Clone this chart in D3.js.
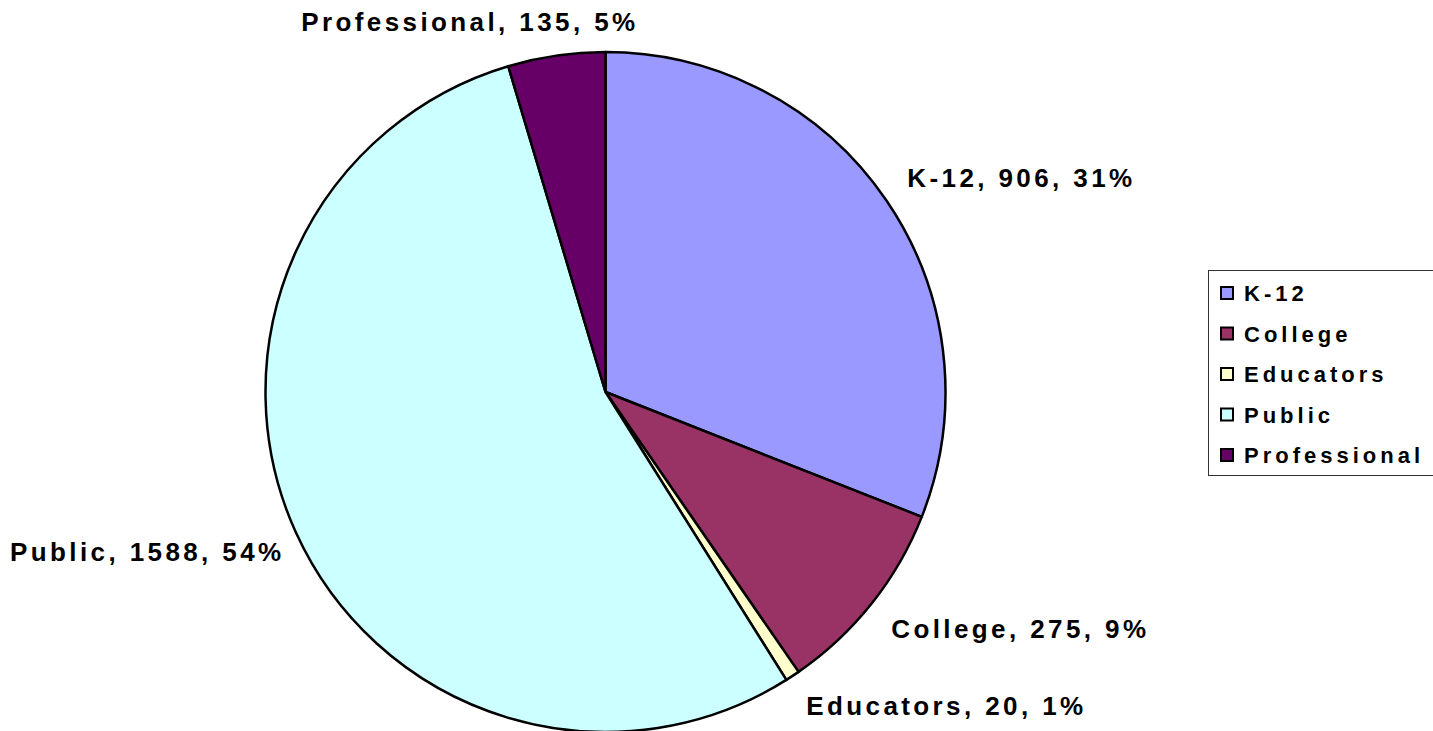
<!DOCTYPE html>
<html>
<head>
<meta charset="utf-8">
<script src="https://cdn.jsdelivr.net/npm/d3@7"></script>
<style>
  body { margin: 0; background: #fff; }
  svg { display: block; }
  text { font-family: "Liberation Sans", Arial, sans-serif; font-weight: bold; fill: #000; }
</style>
</head>
<body>
<svg id="chart" width="1433" height="731"></svg>
<script>
// data
var categories = ["K-12", "College", "Educators", "Public", "Professional"];
var counts = [906, 275, 20, 1588, 135];
var percents = ["31%", "9%", "1%", "54%", "5%"];
var colors = ["#9999ff", "#993366", "#ffffcc", "#ccffff", "#660066"];

var width = 1433, height = 731;
var cx = 605.5, cy = 392, radius = 340;
var labelSize = 26, legendSize = 22;
var edgeMargin = 10;

var svg = d3.select("#chart");

var slices = categories.map(function(c, i) {
    return { name: c, value: counts[i], pct: percents[i], color: colors[i] };
});

var pie = d3.pie()
    .sort(null)
    .value(function(d) { return d.value; });

var arc = d3.arc()
    .innerRadius(0)
    .outerRadius(radius);

var labelArc = d3.arc()
    .innerRadius(radius + 25)
    .outerRadius(radius + 25);

var arcs = pie(slices);

var g = svg.append("g")
    .attr("transform", "translate(" + cx + "," + cy + ")");

g.selectAll("path.slice")
    .data(arcs)
    .enter()
    .append("path")
    .attr("class", "slice")
    .attr("d", arc)
    .attr("fill", function(d) { return d.data.color; })
    .attr("stroke", "#000")
    .attr("stroke-width", 2.5)
    .attr("stroke-linejoin", "round");

// labels: box corner nearest the pie sits on a point just outside the slice,
// then pushed back inside the chart area if it would run off the edge
var capH = labelSize * 0.716;
var labels = g.selectAll("text.label")
    .data(arcs)
    .enter()
    .append("text")
    .attr("class", "label")
    .attr("font-size", labelSize)
    .attr("letter-spacing", "3.4px")
    .text(function(d) { return d.data.name + ", " + d.data.value + ", " + d.data.pct; });

labels.each(function(d) {
    var t = d3.select(this);
    var w = this.getComputedTextLength();
    var mid = (d.startAngle + d.endAngle) / 2;
    var p = labelArc.centroid(d);
    var fx = Math.max(0, Math.min(1, 0.5 - Math.sin(mid) * 1.7));
    var fy = Math.max(0, Math.min(1, 0.5 + Math.cos(mid) * 1.7));
    var x = p[0] - fx * w;
    x = Math.max(edgeMargin - cx, Math.min(width - cx - edgeMargin - w, x));
    t.attr("x", x)
     .attr("y", p[1] - fy * capH + capH);
});

// legend
var legendX = 1208, legendY = 270, legendW = 240, legendH = 205;
var rowStep = 40.5;

var legend = svg.append("g");

legend.append("rect")
    .attr("x", legendX + 0.5)
    .attr("y", legendY + 0.5)
    .attr("width", legendW)
    .attr("height", legendH)
    .attr("fill", "#fff")
    .attr("stroke", "#333")
    .attr("stroke-width", 1);

var rows = legend.selectAll("g.row")
    .data(slices)
    .enter()
    .append("g")
    .attr("class", "row")
    .attr("transform", function(d, i) {
        return "translate(" + (legendX + 13) + "," + (legendY + 23 + i * rowStep) + ")";
    });

rows.append("rect")
    .attr("x", 0)
    .attr("y", -6)
    .attr("width", 12)
    .attr("height", 12)
    .attr("fill", function(d) { return d.color; })
    .attr("stroke", "#000")
    .attr("stroke-width", 2);

rows.append("text")
    .attr("x", 23)
    .attr("y", 8)
    .attr("font-size", legendSize)
    .attr("letter-spacing", "4px")
    .text(function(d) { return d.name; });
</script>
</body>
</html>
